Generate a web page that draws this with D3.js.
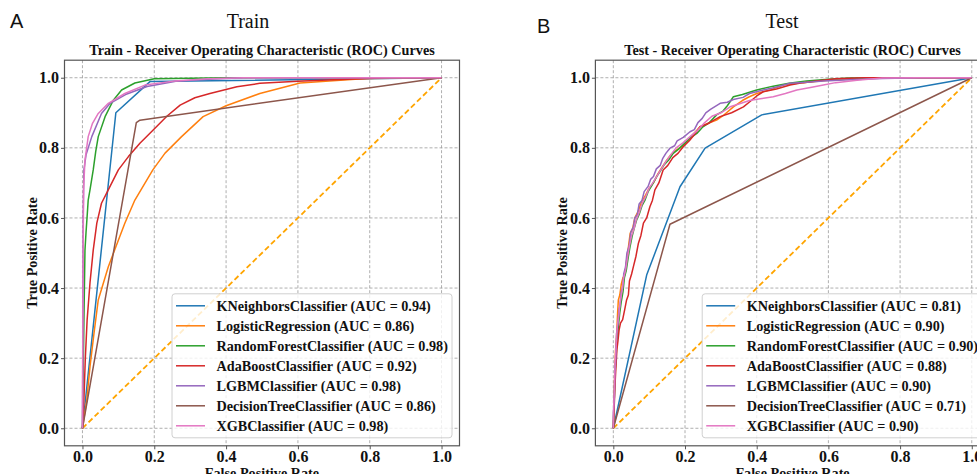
<!DOCTYPE html>
<html>
  <head>
    <meta charset="utf-8">
    <style type="text/css">
      body { margin: 0; background: #fff; overflow: hidden; }
      svg { display: block; }
      .serif { font-family: "Liberation Serif", "Times New Roman", serif; }
    </style>
    <script src="https://d3js.org/d3.v7.min.js"></script>
  </head>
  <body>
    <svg width="977" height="474"></svg>
    <script>
      // model names + colours (matplotlib tab10)
      const models = ['KNeighborsClassifier', 'LogisticRegression', 'RandomForestClassifier',
        'AdaBoostClassifier', 'LGBMClassifier', 'DecisionTreeClassifier', 'XGBClassifier'];
      const colors = ['#1f77b4', '#ff7f0e', '#2ca02c', '#d62728', '#9467bd', '#8c564b', '#e377c2'];
      const trainAuc = ['0.94', '0.86', '0.98', '0.92', '0.98', '0.86', '0.98'];
      const testAuc = ['0.81', '0.90', '0.90', '0.88', '0.90', '0.71', '0.90'];
      const ticks = [0, 0.2, 0.4, 0.6, 0.8, 1.0];

      // train ROC points [fpr, tpr]
      const trainKNN = [[0,0],[0.093,0.90],[0.188,0.989],[1,1]];
      const trainLR = [[0,0],[0.012,0.08],[0.021,0.176],[0.032,0.27],[0.044,0.366],[0.072,0.461],[0.118,0.585],
        [0.146,0.651],[0.196,0.737],[0.23,0.785],[0.276,0.832],[0.336,0.889],[0.40,0.92],[0.494,0.955],
        [0.606,0.985],[0.79,0.998],[1,1]];
      const trainRF = [[0,0],[0.002,0.15],[0.004,0.3],[0.007,0.508],[0.01,0.56],[0.013,0.604],[0.016,0.651],
        [0.021,0.68],[0.03,0.737],[0.037,0.79],[0.044,0.832],[0.063,0.889],[0.086,0.936],[0.109,0.965],
        [0.146,0.985],[0.2,0.997],[0.4,1],[1,1]];
      const trainAda = [[0,0],[0.002,0.04],[0.004,0.08],[0.008,0.2],[0.013,0.309],[0.021,0.415],[0.03,0.508],
        [0.04,0.585],[0.053,0.642],[0.067,0.67],[0.1,0.737],[0.128,0.775],[0.16,0.813],[0.197,0.851],
        [0.235,0.89],[0.272,0.922],[0.313,0.943],[0.355,0.955],[0.43,0.974],[0.494,0.984],[0.6,0.99],
        [0.7,0.994],[0.85,1],[1,1]];
      const trainLGBM = [[0,0],[0.001,0.25],[0.002,0.6],[0.004,0.737],[0.01,0.78],[0.026,0.832],[0.053,0.898],
        [0.077,0.927],[0.12,0.952],[0.18,0.975],[0.26,0.99],[0.35,0.996],[0.45,1],[1,1]];
      const trainDT = [[0,0],[0.15,0.872],[0.16,0.879],[1,1]];
      const trainXGB = [[0,0],[0.001,0.3],[0.003,0.68],[0.007,0.765],[0.016,0.832],[0.028,0.87],[0.044,0.898],
        [0.072,0.927],[0.118,0.955],[0.174,0.979],[0.258,0.991],[0.35,0.997],[0.45,1],[1,1]];

      // test ROC points [fpr, tpr]
      const testKNN = [[0,0],[0.093,0.437],[0.186,0.689],[0.256,0.799],[0.414,0.894],[1,1]];
      const testLR = [[0,0],[0.002,0.08],[0.004,0.16],[0.006,0.22],[0.009,0.26],[0.012,0.33],[0.014,0.366],
        [0.018,0.38],[0.022,0.41],[0.027,0.43],[0.033,0.44],[0.036,0.47],[0.04,0.5],[0.047,0.556],[0.054,0.57],
        [0.06,0.6],[0.07,0.62],[0.078,0.645],[0.09,0.665],[0.1,0.685],[0.112,0.7],[0.124,0.725],[0.136,0.745],
        [0.149,0.765],[0.16,0.78],[0.177,0.794],[0.2,0.81],[0.222,0.838],[0.242,0.86],[0.265,0.87],[0.288,0.879],
        [0.31,0.895],[0.335,0.917],[0.36,0.935],[0.378,0.945],[0.4,0.955],[0.44,0.966],[0.474,0.979],
        [0.52,0.985],[0.6,0.993],[0.68,0.998],[0.8,1],[1,1]];
      const testRF = [[0,0],[0.002,0.06],[0.004,0.14],[0.007,0.19],[0.01,0.25],[0.014,0.29],[0.018,0.33],
        [0.022,0.36],[0.027,0.39],[0.031,0.43],[0.036,0.45],[0.042,0.49],[0.047,0.52],[0.053,0.55],[0.058,0.57],
        [0.065,0.594],[0.072,0.61],[0.08,0.635],[0.088,0.65],[0.097,0.675],[0.106,0.69],[0.121,0.718],
        [0.132,0.735],[0.142,0.752],[0.155,0.766],[0.167,0.784],[0.183,0.797],[0.198,0.812],[0.212,0.826],
        [0.233,0.841],[0.25,0.86],[0.268,0.872],[0.288,0.894],[0.306,0.905],[0.318,0.92],[0.328,0.935],
        [0.335,0.946],[0.36,0.952],[0.4,0.965],[0.446,0.976],[0.49,0.984],[0.539,0.991],[0.6,0.996],
        [0.66,0.999],[1,1]];
      const testAda = [[0,0],[0.002,0.05],[0.005,0.129],[0.007,0.17],[0.01,0.224],[0.013,0.25],[0.016,0.28],
        [0.02,0.3],[0.026,0.31],[0.032,0.34],[0.037,0.366],[0.042,0.38],[0.045,0.42],[0.051,0.44],[0.056,0.461],
        [0.063,0.49],[0.07,0.528],[0.077,0.55],[0.084,0.585],[0.093,0.6],[0.102,0.632],[0.109,0.65],
        [0.116,0.68],[0.127,0.7],[0.139,0.737],[0.152,0.75],[0.166,0.772],[0.181,0.785],[0.195,0.803],
        [0.212,0.82],[0.228,0.84],[0.242,0.86],[0.262,0.868],[0.282,0.88],[0.298,0.889],[0.33,0.9],
        [0.363,0.917],[0.385,0.935],[0.4,0.948],[0.418,0.96],[0.455,0.968],[0.493,0.979],[0.53,0.986],
        [0.567,0.991],[0.62,0.997],[0.7,1],[1,1]];
      const testLGBM = [[0,0],[0,0.04],[0.003,0.09],[0.004,0.15],[0.007,0.2],[0.009,0.27],[0.013,0.3],
        [0.016,0.34],[0.019,0.35],[0.022,0.39],[0.026,0.4],[0.029,0.44],[0.034,0.46],[0.038,0.5],[0.044,0.52],
        [0.049,0.56],[0.056,0.575],[0.06,0.6],[0.067,0.61],[0.072,0.64],[0.08,0.65],[0.086,0.675],[0.097,0.69],
        [0.104,0.71],[0.112,0.718],[0.12,0.74],[0.131,0.75],[0.138,0.77],[0.147,0.785],[0.158,0.799],
        [0.171,0.806],[0.178,0.82],[0.195,0.83],[0.214,0.846],[0.226,0.852],[0.236,0.872],[0.248,0.884],
        [0.258,0.9],[0.271,0.91],[0.298,0.927],[0.318,0.93],[0.335,0.938],[0.362,0.944],[0.38,0.955],
        [0.418,0.965],[0.45,0.972],[0.493,0.984],[0.54,0.987],[0.586,0.991],[0.66,0.994],[0.75,0.998],
        [0.86,1],[1,1]];
      const testDT = [[0,0],[0.158,0.582],[1,1]];
      const testXGB = [[0,0],[0.001,0.06],[0.003,0.12],[0.005,0.19],[0.008,0.24],[0.011,0.29],[0.015,0.32],
        [0.019,0.36],[0.024,0.39],[0.029,0.43],[0.034,0.45],[0.04,0.49],[0.045,0.52],[0.051,0.55],[0.058,0.57],
        [0.064,0.595],[0.072,0.615],[0.08,0.64],[0.09,0.66],[0.1,0.685],[0.11,0.7],[0.122,0.72],[0.134,0.74],
        [0.146,0.76],[0.16,0.78],[0.175,0.8],[0.195,0.815],[0.214,0.832],[0.235,0.85],[0.255,0.872],
        [0.275,0.89],[0.3,0.9],[0.326,0.917],[0.35,0.925],[0.38,0.935],[0.41,0.94],[0.446,0.946],[0.48,0.955],
        [0.512,0.965],[0.55,0.972],[0.586,0.979],[0.62,0.986],[0.68,0.993],[0.75,0.999],[0.85,1],[1,1]];

      const trainCurves = [trainKNN, trainLR, trainRF, trainAda, trainLGBM, trainDT, trainXGB];
      const testCurves = [testKNN, testLR, testRF, testAda, testLGBM, testDT, testXGB];

      const svg = d3.select('svg');
      const spine = '#555';

      function panel(opts) {
        const x = d3.scaleLinear().domain([-0.05, 1.05]).range([opts.left, opts.right]);
        const y = d3.scaleLinear().domain([-0.05, 1.05]).range([445.8, 60.2]);
        const g = svg.append('g');

        // grid
        g.append('g').selectAll('line').data(ticks).join('line')
          .attr('x1', d => x(d)).attr('x2', d => x(d))
          .attr('y1', y.range()[1]).attr('y2', y.range()[0])
          .attr('stroke', '#9a9a9a').attr('stroke-width', 0.8).attr('stroke-dasharray', '3,2');
        g.append('g').selectAll('line').data(ticks).join('line')
          .attr('y1', d => y(d)).attr('y2', d => y(d))
          .attr('x1', x.range()[0]).attr('x2', x.range()[1])
          .attr('stroke', '#9a9a9a').attr('stroke-width', 0.8).attr('stroke-dasharray', '3,2');

        // chance line
        g.append('line')
          .attr('x1', x(0)).attr('y1', y(0)).attr('x2', x(1)).attr('y2', y(1))
          .attr('stroke', '#FFA500').attr('stroke-width', 1.8).attr('stroke-dasharray', '5.5,3');

        const line = d3.line().x(d => x(d[0])).y(d => y(d[1]));
        g.append('g').selectAll('path').data(opts.curves).join('path')
          .attr('d', line)
          .attr('fill', 'none')
          .attr('stroke', (d, i) => colors[i])
          .attr('stroke-width', 1.5)
          .attr('stroke-linejoin', 'round');

        // frame
        g.append('rect')
          .attr('x', x.range()[0]).attr('y', y.range()[1])
          .attr('width', x.range()[1] - x.range()[0]).attr('height', y.range()[0] - y.range()[1])
          .attr('fill', 'none').attr('stroke', spine).attr('stroke-width', 1.2);

        // axes
        const xAxis = g.append('g').attr('transform', `translate(0,${y.range()[0]})`)
          .call(d3.axisBottom(x).tickValues(ticks).tickFormat(d3.format('.1f')).tickSize(3.5).tickPadding(1.5));
        const yAxis = g.append('g').attr('transform', `translate(${x.range()[0]},0)`)
          .call(d3.axisLeft(y).tickValues(ticks).tickFormat(d3.format('.1f')).tickSize(3.5).tickPadding(2));
        [xAxis, yAxis].forEach(a => {
          a.select('.domain').remove();
          a.selectAll('line').attr('stroke', spine);
          a.selectAll('text').attr('class', 'serif').attr('font-size', 16)
            .attr('font-weight', 'bold').attr('fill', '#111');
        });

        const cx = (x.range()[0] + x.range()[1]) / 2;
        g.append('text').attr('class', 'serif')
          .attr('x', cx).attr('y', 55).attr('text-anchor', 'middle')
          .attr('font-size', 14.2).attr('font-weight', 'bold').attr('fill', '#111')
          .text(opts.subtitle);
        g.append('text').attr('class', 'serif')
          .attr('x', cx).attr('y', 478).attr('text-anchor', 'middle')
          .attr('font-size', 14.2).attr('font-weight', 'bold').attr('fill', '#111')
          .text('False Positive Rate');
        g.append('text').attr('class', 'serif')
          .attr('transform', `translate(${opts.ylabelX},253) rotate(-90)`)
          .attr('text-anchor', 'middle').attr('dy', '0.35em')
          .attr('font-size', 14.2).attr('font-weight', 'bold').attr('fill', '#111')
          .text('True Positive Rate');
        g.append('text').attr('class', 'serif')
          .attr('x', opts.titleX).attr('y', 28).attr('text-anchor', 'middle')
          .attr('font-size', 20).attr('fill', '#111')
          .text(opts.title);
        g.append('text')
          .attr('x', opts.letterX).attr('y', opts.letterY)
          .attr('font-family', '"Liberation Sans", Arial, sans-serif')
          .attr('font-size', 20).attr('fill', '#111')
          .text(opts.letter);

        // legend, lower right
        const lw = 280, lh = 144;
        const lx = x.range()[1] - 7.5 - lw, ly = y.range()[0] - 8 - lh;
        const leg = g.append('g').attr('transform', `translate(${lx},${ly})`);
        leg.append('rect').attr('width', lw).attr('height', lh).attr('rx', 3)
          .attr('fill', 'rgba(255,255,255,0.8)').attr('stroke', '#d0d0d0').attr('stroke-width', 1);
        const rows = leg.selectAll('g.row').data(models).join('g')
          .attr('class', 'row')
          .attr('transform', (d, i) => `translate(0,${12 + i * 20})`);
        rows.append('line').attr('x1', 4).attr('x2', 33)
          .attr('stroke', (d, i) => colors[i]).attr('stroke-width', 1.5);
        rows.append('text').attr('class', 'serif')
          .attr('x', 44.5).attr('dy', '0.35em')
          .attr('font-size', 14.2).attr('font-weight', 'bold').attr('fill', '#111')
          .text((d, i) => `${d} (AUC = ${opts.auc[i]})`);
      }

      panel({ left: 64.5, right: 459.5, curves: trainCurves, auc: trainAuc,
        subtitle: 'Train - Receiver Operating Characteristic (ROC) Curves',
        title: 'Train', titleX: 248, letter: 'A', letterX: 10, letterY: 28, ylabelX: 32 });
      panel({ left: 595.4, right: 989.7, curves: testCurves, auc: testAuc,
        subtitle: 'Test - Receiver Operating Characteristic (ROC) Curves',
        title: 'Test', titleX: 782, letter: 'B', letterX: 537, letterY: 33, ylabelX: 562 });
    </script>
  </body>
</html>
